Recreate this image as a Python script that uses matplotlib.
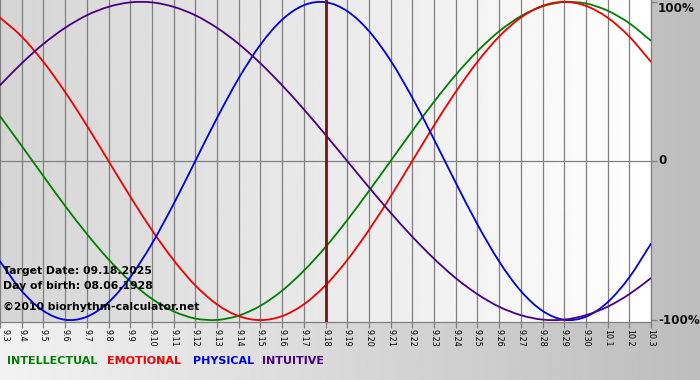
import numpy as np
import matplotlib
matplotlib.use("Agg")
import matplotlib.pyplot as plt
from matplotlib.path import Path
from matplotlib.patches import PathPatch

# ---- data (one per day) ----
dates = ["9.3", "9.4", "9.5", "9.6", "9.7", "9.8", "9.9", "9.10", "9.11", "9.12",
         "9.13", "9.14", "9.15", "9.16", "9.17", "9.18", "9.19", "9.20", "9.21",
         "9.22", "9.23", "9.24", "9.25", "9.26", "9.27", "9.28", "9.29", "9.30",
         "10.1", "10.2", "10.3"]

intellectual = [0.282, 0.095, -0.095, -0.282, -0.458, -0.618, -0.756, -0.866, -0.945,
                -0.990, -0.999, -0.972, -0.910, -0.815, -0.690, -0.541, -0.372, -0.189,
                0.000, 0.189, 0.372, 0.541, 0.690, 0.815, 0.910, 0.972, 0.999, 0.990,
                0.945, 0.866, 0.756]
emotional = [0.901, 0.782, 0.623, 0.434, 0.223, 0.000, -0.223, -0.434, -0.623, -0.782,
             -0.901, -0.975, -1.000, -0.975, -0.901, -0.782, -0.623, -0.434, -0.223,
             0.000, 0.223, 0.434, 0.623, 0.782, 0.901, 0.975, 1.000, 0.975, 0.901,
             0.782, 0.623]
physical = [-0.631, -0.817, -0.942, -0.998, -0.979, -0.888, -0.731, -0.520, -0.270,
            0.000, 0.270, 0.520, 0.731, 0.888, 0.979, 0.998, 0.942, 0.817, 0.631,
            0.398, 0.136, -0.136, -0.398, -0.631, -0.817, -0.942, -0.998, -0.979,
            -0.888, -0.731, -0.520]
intuitive = [0.476, 0.614, 0.736, 0.837, 0.916, 0.969, 0.997, 0.997, 0.969, 0.916,
             0.837, 0.736, 0.614, 0.476, 0.325, 0.165, 0.000, -0.165, -0.325, -0.476,
             -0.614, -0.736, -0.837, -0.916, -0.969, -0.997, -0.997, -0.969, -0.916,
             -0.837, -0.736]

series_names = ["INTELLECTUAL", "EMOTIONAL", "PHYSICAL", "INTUITIVE"]
series_values = [intellectual, emotional, physical, intuitive]
series_colors = ["#007f00", "#ee0000", "#0000dd", "#4b0082"]

target_date = "9.18"
y_ticks = [1.0, 0.0, -1.0]
y_tick_labels = ["100%", "0", "-100%"]
info_lines = ["Target Date: 09.18.2025", "Day of birth: 08.06.1928"]
copyright_text = "\u00a92010 biorhythm-calculator.net"

# ---- figure ----
W, H = 700, 380
fig = plt.figure(figsize=(W / 100, H / 100), dpi=100)

# figure background gradient
bg = fig.add_axes([0, 0, 1, 1], zorder=0)
grad = np.linspace(0.95, 0.74, 256).reshape(1, -1)
bg.imshow(grad, aspect="auto", cmap="gray", vmin=0, vmax=1,
          extent=(0, 1, 0, 1), interpolation="bilinear")
bg.set_xlim(0, 1)
bg.set_ylim(0, 1)
bg.axis("off")

# plot axes
px_left, px_right, px_top, px_bottom = 0, 651, 0, 322
ax = fig.add_axes([px_left / W, 1 - px_bottom / H, (px_right - px_left) / W,
                   (px_bottom - px_top) / H], zorder=1)
ax.set_facecolor("none")
x = np.arange(len(dates))
ax.set_xlim(x[0], x[-1])
ax.set_ylim(-1.012, 1.012)

pgrad = np.linspace(0.835, 1.0, 256).reshape(1, -1)
ax.imshow(pgrad, aspect="auto", cmap="gray", vmin=0, vmax=1,
          extent=(x[0], x[-1], -1.012, 1.012), interpolation="bilinear", zorder=0)

for xi in x:
    ax.axvline(xi, color="#808080", lw=0.9, zorder=1)
ax.axhline(0, color="#808080", lw=0.9, zorder=1)


def smooth_path(xs, ys):
    """Bezier path passing through every data point (Catmull-Rom tangents)."""
    xs = np.asarray(xs, float)
    ys = np.asarray(ys, float)
    pts = np.column_stack([xs, ys])
    n = len(pts)
    tang = np.zeros_like(pts)
    tang[1:-1] = (pts[2:] - pts[:-2]) / 2.0
    tang[0] = pts[1] - pts[0]
    tang[-1] = pts[-1] - pts[-2]
    verts = [pts[0]]
    codes = [Path.MOVETO]
    for i in range(n - 1):
        verts += [pts[i] + tang[i] / 3.0, pts[i + 1] - tang[i + 1] / 3.0, pts[i + 1]]
        codes += [Path.CURVE4] * 3
    return Path(verts, codes)


for vals, col in zip(series_values, series_colors):
    patch = PathPatch(smooth_path(x, vals), facecolor="none", edgecolor=col,
                      lw=1.3, zorder=3, capstyle="round", joinstyle="round")
    ax.add_patch(patch)

ti = dates.index(target_date)
ax.axvline(x[ti], color="#7a1010", lw=2.0, zorder=4)

for s in ["top", "left"]:
    ax.spines[s].set_visible(False)
for s in ["bottom", "right"]:
    ax.spines[s].set_color("#808080")
    ax.spines[s].set_linewidth(0.9)

ax.set_xticks(x)
ax.set_xticklabels(dates, rotation=270, fontsize=5.8, family="DejaVu Sans")
ax.tick_params(axis="x", direction="out", length=4, width=0.9, color="#808080", pad=1)
first = ax.get_xticklabels()[0]
first.set_horizontalalignment("left")
ax.yaxis.tick_right()
ax.set_yticks(y_ticks)
ax.set_yticklabels([])
ax.tick_params(axis="y", direction="out", length=4, width=0.9, color="#808080")

for v, lab in zip(y_ticks, y_tick_labels):
    yy = min(v, 0.96)
    ax.annotate(lab, xy=(1.0, yy), xycoords=("axes fraction", "data"),
                xytext=(5, 0), textcoords="offset points", ha="left", va="center",
                fontsize=8.6, fontweight="bold", color="#111111", annotation_clip=False)


def ftxt(px, py, s, **kw):
    fig.text(px / W, 1 - py / H, s, **kw)


ftxt(3, 271, info_lines[0], fontsize=7.8, fontweight="bold", va="center", zorder=5)
ftxt(3, 286, info_lines[1], fontsize=7.8, fontweight="bold", va="center", zorder=5)
ftxt(3, 307, copyright_text, fontsize=7.8, fontweight="bold", va="center", zorder=5)

leg_x = [7, 107, 193, 262]
for lx, name, col in zip(leg_x, series_names, series_colors):
    ftxt(lx, 361, name, fontsize=8.0, fontweight="bold", color=col, va="center", zorder=5)

fig.savefig("out.png", dpi=100)
